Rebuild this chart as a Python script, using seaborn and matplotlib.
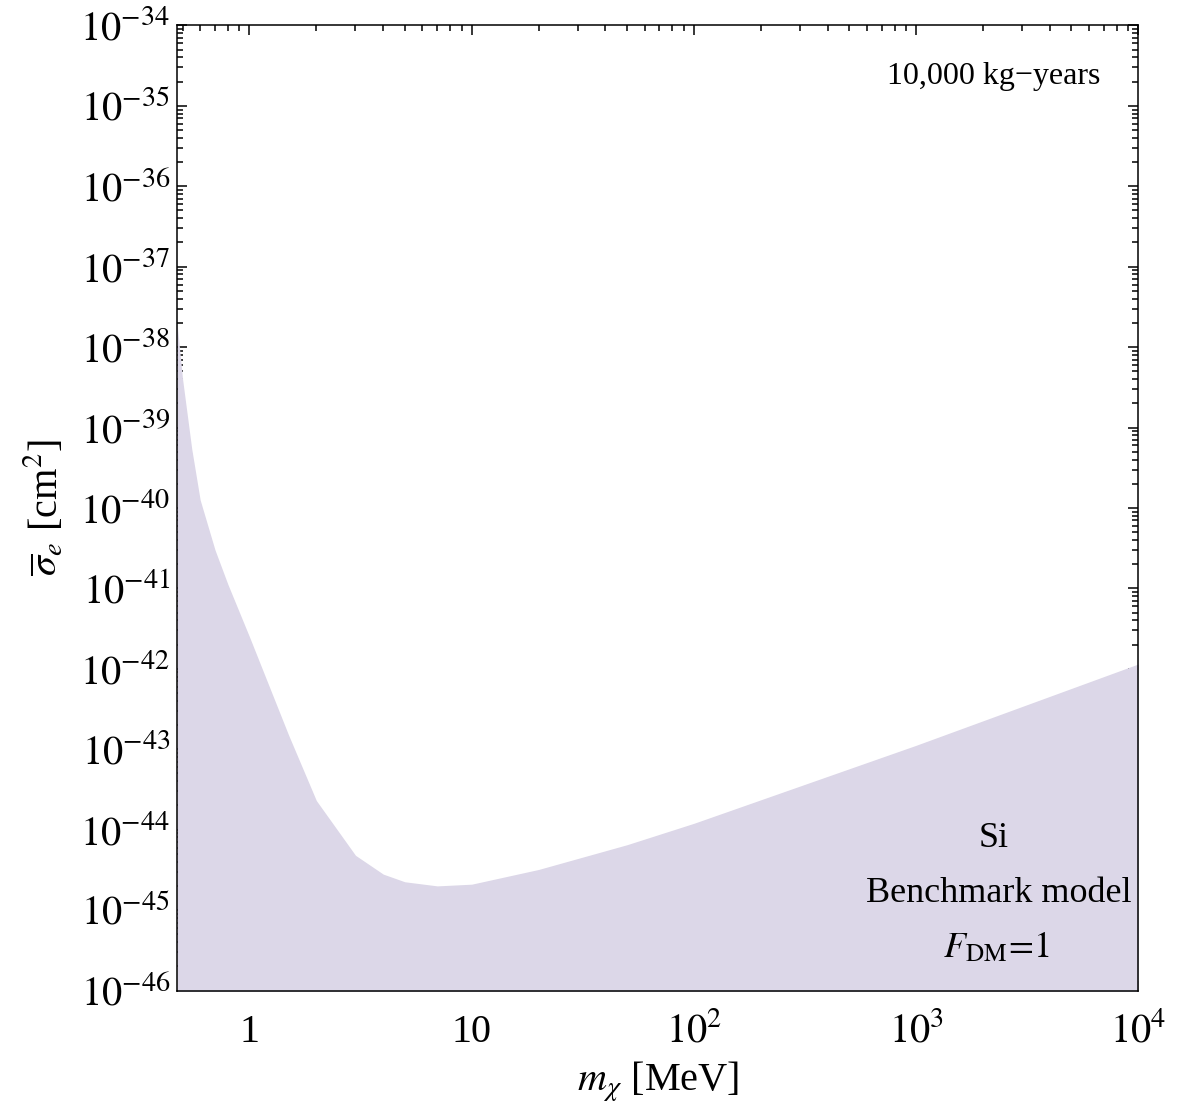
import numpy as np
import pandas as pd
import matplotlib
matplotlib.use("Agg")
import matplotlib.pyplot as plt
import seaborn as sns
from matplotlib.ticker import LogLocator, NullFormatter

# ---- data ----
mass_mev = [0.472, 0.5, 0.55, 0.6, 0.7, 0.8, 1.0, 1.5, 2.0, 3.0, 4.0, 5.0,
            7.0, 10.0, 20.0, 50.0, 100.0, 1000.0, 10000.0]
sigma_e = [2.0e-38, 4.0e-39, 5.4e-40, 1.26e-40, 3.0e-41, 1.12e-41, 2.5e-42,
           1.5e-43, 2.3e-44, 4.8e-45, 2.8e-45, 2.25e-45, 2.0e-45, 2.1e-45,
           3.2e-45, 6.5e-45, 1.2e-44, 1.12e-43, 1.15e-42]

xtick_vals = [1, 10, 100, 1000, 10000]
xtick_labels = ["1", "10", r"$10^{2}$", r"$10^{3}$", r"$10^{4}$"]
ytick_exps = list(range(-46, -33))
ytick_vals = [10.0 ** e for e in ytick_exps]
ytick_labels = [r"$10^{%d}$" % e for e in ytick_exps]

df = pd.DataFrame({"mass": mass_mev, "sigma": sigma_e})

sns.set_theme(style="ticks")
plt.rcParams["font.family"] = ["Liberation Serif", "DejaVu Serif"]
plt.rcParams["mathtext.fontset"] = "stix"
plt.rcParams["axes.linewidth"] = 1.1
plt.rcParams["axes.edgecolor"] = "black"
plt.rcParams["text.color"] = "black"
plt.rcParams["axes.labelcolor"] = "black"
plt.rcParams["xtick.color"] = "black"
plt.rcParams["ytick.color"] = "black"

fill_color = "#dcd7e8"

fig = plt.figure(figsize=(11.92, 11.05), dpi=100)
ax = fig.add_axes([0.1485, 0.1036, 0.955 - 0.1485, 0.977 - 0.1036])

sns.lineplot(data=df, x="mass", y="sigma", ax=ax, color=fill_color, lw=0,
             sort=False)
ax.fill_between(df["mass"], df["sigma"], 1e-47, color=fill_color, lw=0)

ax.set_xscale("log")
ax.set_yscale("log")
ax.set_xlim(0.472, 1e4)
ax.set_ylim(1e-46, 1e-34)

ax.set_xticks(xtick_vals)
ax.set_xticklabels(xtick_labels)
ax.set_yticks(ytick_vals)
ax.set_yticklabels(ytick_labels)
ax.xaxis.set_minor_locator(LogLocator(base=10, subs=np.arange(2, 10), numticks=50))
ax.yaxis.set_minor_locator(LogLocator(base=10, subs=np.arange(2, 10), numticks=50))
ax.xaxis.set_minor_formatter(NullFormatter())
ax.yaxis.set_minor_formatter(NullFormatter())

ax.tick_params(which="both", direction="in", top=True, right=True,
               colors="black", labelcolor="black", width=1.1)
ax.tick_params(which="major", length=7.5)
ax.tick_params(which="minor", length=4)
ax.tick_params(axis="y", which="major", labelsize=29, pad=5)
ax.tick_params(axis="x", which="major", labelsize=29, pad=37)
for lab in ax.get_xticklabels():
    lab.set_verticalalignment("baseline")

ax.set_xlabel(r"$m_\chi$ [MeV]", fontsize=29, labelpad=6, color="black")
ax.set_ylabel(r"$\overline{\sigma}_e$ [cm$^2$]", fontsize=29, labelpad=10,
              color="black")

ax.text(0.85, 0.947, "10,000 kg\u2212years", transform=ax.transAxes,
        ha="center", va="center", fontsize=23, color="black")
ax.text(0.85, 0.158, "Si", transform=ax.transAxes, ha="center", va="center",
        fontsize=26, color="black")
ax.text(0.855, 0.101, "Benchmark model", transform=ax.transAxes, ha="center",
        va="center", fontsize=26, color="black")
ax.text(0.853, 0.044, r"$F_{\mathrm{DM}}\!=\!1$", transform=ax.transAxes,
        ha="center", va="center", fontsize=26, color="black")

fig.savefig("out.png", dpi=100, facecolor="white")
